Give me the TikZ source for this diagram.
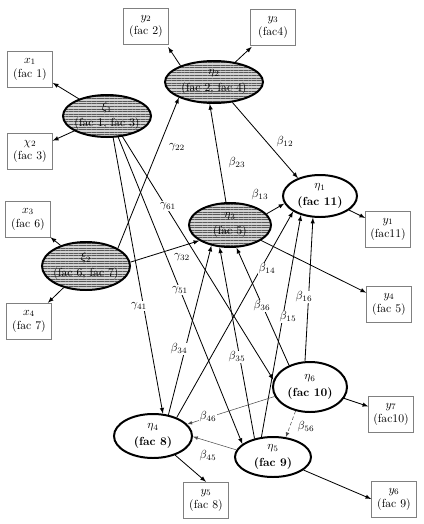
\documentclass[tikz,border=0pt]{standalone}
\usepackage{amsmath}
\usepackage{amssymb}
\usetikzlibrary{shapes.geometric,patterns.meta,arrows}

\begin{document}
\begin{tikzpicture}[x=0.03cm,y=-0.03cm,>=latex,
    lat/.style={ellipse,draw,line width=1.7pt,inner sep=0pt},
    hatch/.style={lat,preaction={fill=gray!35},pattern={Lines[angle=0,distance=2.2pt,line width=0.8pt]},pattern color=gray!70!black},
    obs/.style={draw=gray,rectangle,minimum width=1.35cm,minimum height=1.08cm,inner sep=1pt,align=center},
    lab/.style={fill=white,inner sep=1pt},
    every label/.style={align=center,inner sep=0pt},
    arr/.style={->,line width=0.7pt},
    thinarr/.style={->,line width=0.45pt,draw=black!70}]
\useasboundingbox (0,0) rectangle (424,524);

\node[hatch,minimum width=2.64cm,minimum height=1.26cm,label={center:{$\xi_1$\\[2pt](fac 1, fac 3)}}] (xi1) at (107,116) {};
\node[hatch,minimum width=2.94cm,minimum height=1.26cm,label={center:{$\eta_2$\\[2pt](fac 2, fac 4)}}] (eta2) at (214,82) {};
\node[hatch,minimum width=2.64cm,minimum height=1.44cm,label={center:{$\xi_2$\\[2pt](fac 6, fac 7)}}] (xi2) at (86,266) {};
\node[hatch,minimum width=2.46cm,minimum height=1.32cm,label={center:{$\eta_3$\\[2pt](fac 5)}}] (eta3) at (230,225) {};
\node[lat,minimum width=2.22cm,minimum height=1.26cm,label={center:{$\eta_1$\\[2pt]\textbf{(fac 11)}}}] (eta1) at (320,196) {};
\node[lat,minimum width=2.22cm,minimum height=1.5cm,label={center:{$\eta_6$\\[2pt]\textbf{(fac 10)}}}] (eta6) at (310,387) {};
\node[lat,minimum width=2.28cm,minimum height=1.2cm,label={center:{$\eta_5$\\[2pt]\textbf{(fac 9)}}}] (eta5) at (273,457) {};
\node[lat,minimum width=2.34cm,minimum height=1.32cm,label={center:{$\eta_4$\\[2pt]\textbf{(fac 8)}}}] (eta4) at (153,436) {};

\node[obs] (x1) at (30,69) {$x_1$\\(fac 1)};
\node[obs] (x2) at (30,151) {$\chi_2$\\(fac 3)};
\node[obs] (y2) at (146,26) {$y_2$\\(fac 2)};
\node[obs] (y3) at (273,27) {$y_3$\\(fac4)};
\node[obs] (x3) at (28,219) {$x_3$\\(fac 6)};
\node[obs] (x4) at (29,321) {$x_4$\\(fac 7)};
\node[obs] (y1) at (388,229) {$y_1$\\(fac11)};
\node[obs] (y4) at (389,304) {$y_4$\\(fac 5)};
\node[obs] (y7) at (391,414) {$y_7$\\(fac10)};
\node[obs] (y6) at (394,499) {$y_6$\\(fac 9)};
\node[obs] (y5) at (206,500) {$y_5$\\(fac 8)};

\draw[arr] (xi1) -- (x1);
\draw[arr] (xi1) -- (x2);
\draw[arr,shorten >=3pt] (eta2.154) -- (y2.-42);
\draw[arr,shorten >=2pt] (eta2) -- (y3);
\draw[arr] (xi2) -- (x3);
\draw[arr] (xi2) -- (x4);
\draw[arr] (eta1) -- (y1);
\draw[arr] (eta3) -- (y4);
\draw[arr] (eta6) -- (y7);
\draw[arr] (eta5) -- (y6.west);
\draw[arr] (eta4) -- (y5.north);

\draw[arr] (xi2.29) -- (eta2.204);
\draw[arr] (xi2.5) -- (eta3.207);
\draw[arr] (xi1.-74) -- (eta4.66);
\draw[arr] (xi1.-62) -- (eta5.157);
\draw[arr] (xi1.-53) -- (eta6.169);
\draw[arr] (eta2.-48) -- (eta1.141);
\draw[arr] (eta3.100) -- (eta2.-101);
\draw[arr] (eta3.17) -- (eta1.192);
\draw[arr] (eta4.38) -- (eta1.210);
\draw[arr] (eta5.120) -- (eta1.225);
\draw[arr] (eta6.101) -- (eta1.252);
\draw[arr] (eta4.54) -- (eta3.228);
\draw[arr] (eta5.135) -- (eta3.245);
\draw[arr] (eta6.134) -- (eta3.286);
\draw[thinarr] (eta6.195) -- (eta4.19);
\draw[thinarr] (eta5.169) -- (eta4.-1);
\draw[thinarr,densely dashed] (eta6.239) -- (eta5.57);

\node[lab] (g22) at (177,147) {$\gamma_{22}$};
\node[lab] (b12) at (285,142) {$\beta_{12}$};
\node[lab] (b23) at (237,163) {$\beta_{23}$};
\node[lab] (b13) at (260,195) {$\beta_{13}$};
\node[lab] (g61) at (168,206) {$\gamma_{61}$};
\node[lab] (g32) at (182,257) {$\gamma_{32}$};
\node[lab] (g51) at (180,290) {$\gamma_{51}$};
\node[lab] (g41) at (139,306) {$\gamma_{41}$};
\node[lab] (b14) at (267,269) {$\beta_{14}$};
\node[lab] (b36) at (262,306) {$\beta_{36}$};
\node[lab] (b15) at (288,317) {$\beta_{15}$};
\node[lab] (b16) at (304,297) {$\beta_{16}$};
\node[lab] (b34) at (179,349) {$\beta_{34}$};
\node[lab] (b35) at (237,357) {$\beta_{35}$};
\node[lab] (b46) at (208,417) {$\beta_{46}$};
\node[lab] (b45) at (208,456) {$\beta_{45}$};
\node[lab] (b56) at (306,427) {$\beta_{56}$};
\end{tikzpicture}
\end{document}
